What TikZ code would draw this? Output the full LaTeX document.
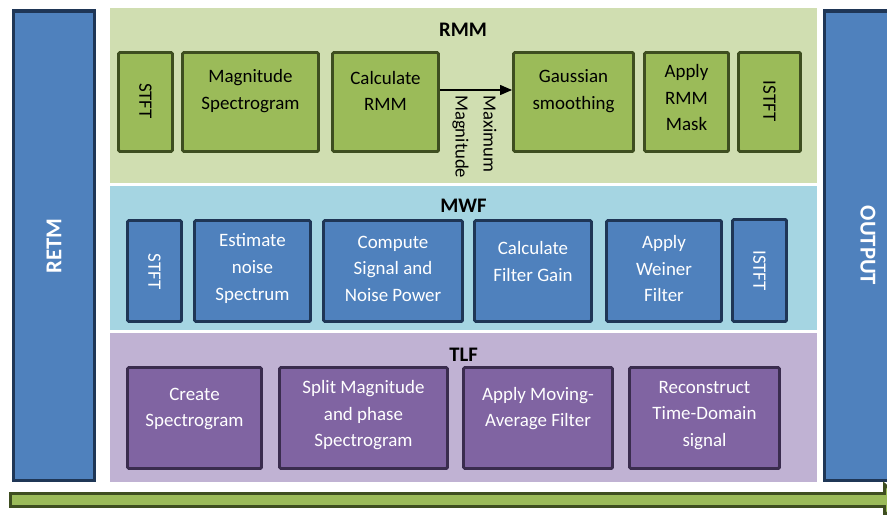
\documentclass[tikz,border=0pt]{standalone}
\usepackage{fontspec}
\setmainfont{Carlito}
\usetikzlibrary{fit,arrows.meta}

\definecolor{gpanel}{RGB}{208,222,177}
\definecolor{bpanel}{RGB}{165,213,226}
\definecolor{ppanel}{RGB}{192,178,211}
\definecolor{gfill}{RGB}{155,187,89}
\definecolor{gline}{RGB}{62,78,32}
\definecolor{bfill}{RGB}{79,129,189}
\definecolor{bline}{RGB}{31,54,86}
\definecolor{pfill}{RGB}{128,100,162}
\definecolor{pline}{RGB}{58,44,78}

\tikzset{
  panel/.style={draw=none, inner sep=0pt},
  blk/.style={line width=2.2pt, rounded corners=1pt, inner sep=0pt},
  gbox/.style={blk, draw=gline, fill=gfill},
  bbox/.style={blk, draw=bline, fill=bfill},
  pbox/.style={blk, draw=pline, fill=pfill},
  bar/.style={line width=2.4pt, draw=bline, fill=bfill},
  txt/.style={font=\fontsize{14.2}{19.9}\selectfont, align=center, inner sep=0pt},
  gtxt/.style={txt, text=black},
  wtxt/.style={txt, text=white},
  ttl/.style={font=\fontsize{15.5}{18}\selectfont\bfseries, inner sep=0pt},
  bartxt/.style={font=\fontsize{17}{20}\selectfont\bfseries, text=white, inner sep=0pt},
}

\begin{document}
\begin{tikzpicture}[x=0.75pt, y=-0.75pt]
\useasboundingbox (0,0) rectangle (887,514);

% background panels
\node[panel, fill=gpanel, fit={(110,8) (817,183)}] (rmmpanel) {};
\node[panel, fill=bpanel, fit={(110,186) (817,330)}] (mwfpanel) {};
\node[panel, fill=ppanel, fit={(110,333) (817,482)}] (tlfpanel) {};

% side bars
\node[bar, inner sep=0pt, fit={(13.5,11) (94.5,480.5)}] (retm) {};
\node[bartxt, rotate=90] at (retm.center) {RETM};
\node[bar, inner sep=0pt, fit={(824.5,11) (905,480.5)}] (output) {};
\node[bartxt, rotate=-90] at (868,245.5) (outtxt) {OUTPUT};

% titles
\node[ttl] (rmmt) at (463,30) {RMM};
\node[ttl] (mwft) at (463.5,206) {MWF};
\node[ttl] (tlft) at (463.5,354.5) {TLF};

% RMM row
\node[gbox, fit={(118.5,52.5) (172.5,151.5)}] (r1) {};
\node[gbox, fit={(182.5,52.5) (318.5,151.5)}] (r2) {};
\node[gbox, fit={(332.5,52.5) (438.5,151.5)}] (r3) {};
\node[gbox, fit={(513.5,52.5) (633.5,151.5)}] (r4) {};
\node[gbox, fit={(644.5,52.5) (728.5,151.5)}] (r5) {};
\node[gbox, fit={(738.5,52.5) (800.5,151.5)}] (r6) {};
\node[gtxt, rotate=-90] (r1t) at (145.5,101) {STFT};
\node[gtxt] (r2t) at (250.5,91) {Magnitude\\Spectrogram};
\node[gtxt] (r3t) at (385.5,91) {Calculate\\RMM};
\node[gtxt] (r4t) at (573.5,91) {Gaussian\\smoothing};
\node[gtxt] (r5t) at (686.5,97.5) {Apply\\RMM\\Mask};
\node[gtxt, rotate=-90] (r6t) at (769.5,101) {ISTFT};

\draw[line width=1pt, -{Triangle[length=9pt, width=7.5pt]}]
  (r3.east |- 0,90) -- (r4.west |- 0,90);
\node[font=\fontsize{14}{21}\selectfont, align=left, inner sep=0pt,
      rotate=-90, anchor=west] (lbl) at (474.5,95) {Maximum\\Magnitude};

% MWF row
\node[bbox, fit={(127.5,220.5) (181.5,321.5)}] (m1) {};
\node[bbox, fit={(194.5,220.5) (310.5,321.5)}] (m2) {};
\node[bbox, fit={(323.5,220.5) (462.5,321.5)}] (m3) {};
\node[bbox, fit={(474.5,220.5) (591.5,321.5)}] (m4) {};
\node[bbox, fit={(606.5,220.5) (721.5,321.5)}] (m5) {};
\node[bbox, fit={(732.5,219.5) (786.5,321.5)}] (m6) {};
\node[wtxt, rotate=-90] (m1t) at (154.5,271.5) {STFT};
\node[wtxt] (m2t) at (252.5,268.5) {Estimate\\noise\\Spectrum};
\node[wtxt] (m3t) at (393,268.5) {Compute\\Signal and\\Noise Power};
\node[wtxt] (m4t) at (533,261.5) {Calculate\\Filter Gain};
\node[wtxt] (m5t) at (664,268.5) {Apply\\Weiner\\Filter};
\node[wtxt, rotate=-90] (m6t) at (759.5,270.5) {ISTFT};

% TLF row
\node[pbox, fit={(127.5,367.5) (261.5,468.5)}] (t1) {};
\node[pbox, fit={(279.5,367.5) (447.5,468.5)}] (t2) {};
\node[pbox, fit={(463.5,367.5) (612.5,468.5)}] (t3) {};
\node[pbox, fit={(629.5,367.5) (779.5,468.5)}] (t4) {};
\node[wtxt] (t1t) at (194.5,409) {Create\\Spectrogram};
\node[wtxt] (t2t) at (363.5,415.5) {Split Magnitude\\and phase\\Spectrogram};
\node[wtxt] (t3t) at (538,408.5) {Apply Moving-\\Average Filter};
\node[wtxt] (t4t) at (704.5,415.5) {Reconstruct\\Time-Domain\\signal};

% timeline arrow along the bottom
\draw[line width=2.2pt, draw=gline, fill=gfill, line join=miter]
  (10.5,493.5) -- (884.5,493.5) -- (884.5,484.5) -- (902,500)
  -- (884.5,515.5) -- (884.5,506.5) -- (10.5,506.5) -- cycle;
\end{tikzpicture}
\end{document}
